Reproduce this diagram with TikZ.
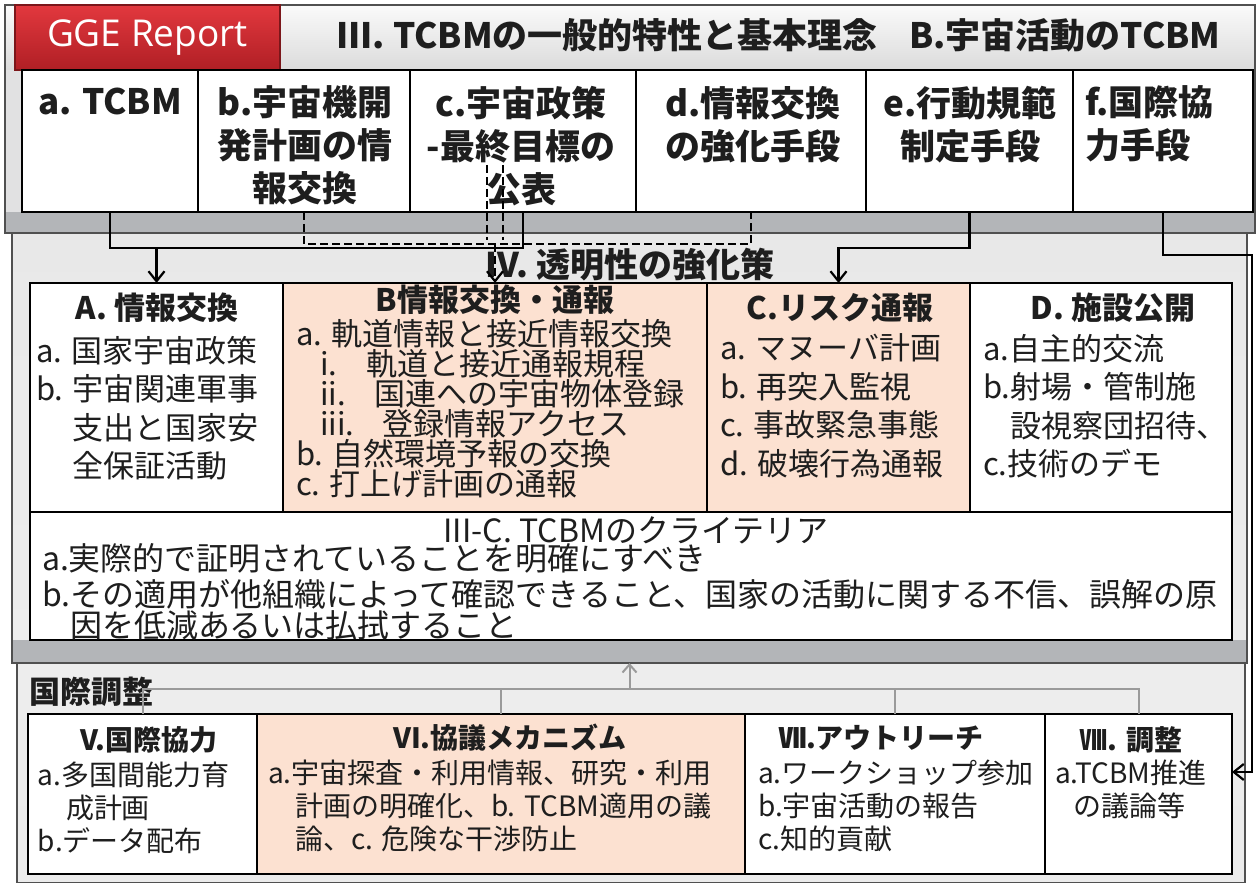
\documentclass[tikz,border=0pt]{standalone}
\usepackage{fontspec}
\setmainfont{Noto Sans CJK JP}
\newfontfamily\ggefont{Open Sans}
\usetikzlibrary{arrows.meta}
\definecolor{peach}{HTML}{FCE1D1}
\definecolor{txt}{HTML}{1E1E1E}
\definecolor{bandg}{HTML}{B3B5B8}
\definecolor{lineg}{HTML}{9A9A9A}
\definecolor{panelg}{HTML}{E1E1E2}
\definecolor{edgeg}{HTML}{505050}
\definecolor{redtop}{HTML}{E2383E}
\definecolor{redbot}{HTML}{B01F25}
\begin{document}
\begin{tikzpicture}[x=0.5pt,y=-0.5pt,
  every node/.style={inner sep=0pt, outer sep=0pt, text=txt},
  sz/.style 2 args={minimum width={(#1)*0.5pt}, minimum height={(#2)*0.5pt}},
  panel/.style={draw=edgeg, line width=0.8pt, fill=panelg, anchor=north west},
  box/.style={draw=black, line width=1.3pt, fill=white, anchor=north west},
  pbox/.style={box, fill=peach},
  conn/.style={draw=black, line width=1.1pt},
  dconn/.style={conn, dash pattern=on 4pt off 2pt},
  gconn/.style={draw=lineg, line width=1pt},
  tip/.style={-{Straight Barb[length=5pt,width=8pt]}},
  gtip/.style={-{Straight Barb[length=4pt,width=7pt]}},
  toptxt/.style={font=\fontsize{17.5}{21.5}\selectfont\bfseries, align=center, anchor=north},
  ttl/.style={font=\fontsize{15.5}{18}\selectfont\bfseries},
  itm/.style={font=\fontsize{15.5}{19.25}\selectfont, align=left, anchor=north west},
  bttl/.style={font=\fontsize{14}{16}\selectfont\bfseries},
  bitm/.style={font=\fontsize{14}{16.5}\selectfont, align=left, anchor=north west},
]
\useasboundingbox (0,0) rectangle (1260,883);
\fill[white] (0,0) rectangle (1260,883);

% ---------- panels ----------
\node[panel, sz={1250}{228}] (P1) at (5,5) {};
\shade[top color=gray!4, bottom color=gray!28] (5,5) rectangle (1255,70);
\fill[bandg] (5,212) rectangle (1255,233);
\draw[edgeg, line width=0.8pt] (5,5) rectangle (1255,233);

\node[panel, sz={1235}{430}, top color=gray!18, bottom color=gray!14] (P2) at (12,233) {};
\fill[bandg] (12,640) rectangle (1247,663);
\draw[edgeg, line width=0.8pt] (12,233) rectangle (1247,663);

\node[panel, sz={1228}{220}, top color=gray!14, bottom color=gray!16] (P3) at (17,663) {};

% ---------- header ----------
\node[anchor=north west, sz={265}{65}, top color=redtop, bottom color=redbot, draw=redbot!70!black, line width=0.6pt] (gge) at (15,5) {};
\node[font=\ggefont\fontsize{18.5}{20}\selectfont, text=white] (ggetxt) at (gge.center) {GGE Report};
\node[font=\fontsize{17.5}{20}\selectfont\bfseries, anchor=west] (hdr) at (336,35) {III. TCBMの一般的特性と基本理念\hspace{0.9em}B.宇宙活動のTCBM};

% ---------- top boxes ----------
\node[box, sz={176}{142}] (ta) at (22,70) {};
\node[box, sz={212}{142}] (tb) at (198,70) {};
\node[box, sz={226}{142}] (tc) at (410,70) {};
\node[box, sz={230}{142}] (td) at (636,70) {};
\node[box, sz={207}{142}] (te) at (866,70) {};
\node[box, sz={180}{142}] (tf) at (1073,70) {};

\node[toptxt] (ta-t) at (110,88) {a. TCBM};
\node[toptxt] (tb-t) at (305,86) {b.宇宙機開\\発計画の情\\報交換};
\node[toptxt] (tc-t) at (521,86) {c.宇宙政策\\-最終目標の\\公表};
\node[toptxt] (td-t) at (753,86) {d.情報交換\\の強化手段};
\node[toptxt] (te-t) at (970,86) {e.行動規範\\制定手段};
\node[toptxt, anchor=north west, align=left] (tf-t) at (1085,86) {f.国際協\\力手段};

% ---------- IV row ----------
\node[font=\fontsize{17}{20}\selectfont\bfseries] (iv) at (630,265) {IV. 透明性の強化策};

\node[box, sz={253}{229}] (A) at (30,283) {};
\node[pbox, sz={424}{229}] (B) at (283,283) {};
\node[pbox, sz={263}{229}] (C) at (707,283) {};
\node[box, sz={262}{229}] (D) at (970,283) {};
\node[box, sz={1202}{128}] (IIIC) at (30,512) {};

\node[ttl] (A-t) at (157,308) {A. 情報交換};
\node[itm] (A-i) at (36,336) {a. 国家宇宙政策\\b. 宇宙関連軍事\\\phantom{b. }支出と国家安\\\phantom{b. }全保証活動};

\node[ttl] (B-t) at (495,300) {B情報交換・通報};
\node[itm, font=\fontsize{15.5}{15}\selectfont] (B-i) at (296,319) {a. 軌道情報と接近情報交換\\
\hspace*{12pt}\makebox[23.5pt][l]{i.}軌道と接近通報規程\\
\hspace*{12pt}\makebox[27.5pt][l]{ii.}国連への宇宙物体登録\\
\hspace*{12pt}\makebox[31.5pt][l]{iii.}登録情報アクセス\\
b. 自然環境予報の交換\\
c. 打上げ計画の通報};

\node[ttl] (C-t) at (840,308) {C.リスク通報};
\node[itm] (C-i) at (720,334) {a. マヌーバ計画\\b. 再突入監視\\c. 事故緊急事態\\d. 破壊行為通報};

\node[ttl] (D-t) at (1113,308) {D. 施設公開};
\node[itm] (D-i) at (983,334) {a.自主的交流\\b.射場・管制施\\\hspace*{13.5pt}設視察団招待、\\c.技術のデモ};

\node[font=\fontsize{16}{18}\selectfont] (IIIC-t) at (636,530) {III-C. TCBMのクライテリア};
\node[itm, font=\fontsize{16}{18}\selectfont] (IIIC-i) at (42,543) {a.実際的で証明されていることを明確にすべき\\
b.その適用が他組織によって確認できること、国家の活動に関する不信、誤解の原\\[-2.5pt]
\hspace*{14pt}因を低減あるいは払拭すること};

% ---------- bottom panel ----------
\node[font=\fontsize{15.5}{18}\selectfont\bfseries, anchor=west] (kokusai) at (30,692) {国際調整};

\node[box, sz={229}{160}] (V) at (28,714) {};
\node[pbox, sz={488}{160}] (VI) at (257,714) {};
\node[box, sz={300}{160}] (VII) at (745,714) {};
\node[box, sz={187}{160}] (P8) at (1045,714) {};

\node[bttl] (V-t) at (149,740) {V.国際協力};
\node[bitm] (V-i) at (38,762) {a.多国間能力育\\\hspace*{14pt}成計画\\b.データ配布};

\node[bttl] (VI-t) at (510,738) {VI.協議メカニズム};
\node[bitm] (VI-i) at (268,760) {a.宇宙探査・利用情報、研究・利用\\\hspace*{13.5pt}計画の明確化、b. TCBM適用の議\\\hspace*{13.5pt}論、c. 危険な干渉防止};

\node[bttl] (VII-t) at (881,738) {Ⅶ.アウトリーチ};
\node[bitm] (VII-i) at (758,760) {a.ワークショップ参加\\b.宇宙活動の報告\\c.知的貢献};

\node[bttl] (P8-t) at (1131,740) {Ⅷ. 調整};
\node[bitm] (P8-i) at (1055,760) {a.TCBM推進\\\hspace*{9pt}の議論等};

% ---------- connectors ----------
\coordinate (h1) at (0,248);
\coordinate (h2) at (0,244);
\draw[conn] (ta.south) |- (tc.south |- h1) -- (tc.south);
\draw[conn,tip] (A.north |- h1) -- (A.north);
\draw[dconn] (tb.south) |- (td.south |- h2) -- (td.south);
\coordinate (c1a) at (487,165);
\coordinate (c1b) at (487,240);
\coordinate (c2a) at (503,165);
\coordinate (c2b) at (503,240);
\draw[dconn] (c1a) -- (c1b);
\draw[dconn] (c2a) -- (c2b);
\draw[dconn,tip] (B.north |- h2) -- (B.north);
\draw[conn,tip] (te.south) |- (C.north |- h1) -- (C.north);
\coordinate (r1) at (1252,255);
\coordinate (r2) at (1252,772);
\draw[conn,tip] (tf.south) |- (r1) -- (r2) -- (P8.east |- r2);

\coordinate (gy) at (0,689);
\draw[gconn] (V.north) |- (P8.north |- gy) -- (P8.north);
\draw[gconn] (VI.north) -- (VI.north |- gy);
\draw[gconn] (VII.north) -- (VII.north |- gy);
\draw[gconn,gtip] (P2.south |- gy) -- (P2.south);
\end{tikzpicture}
\end{document}
